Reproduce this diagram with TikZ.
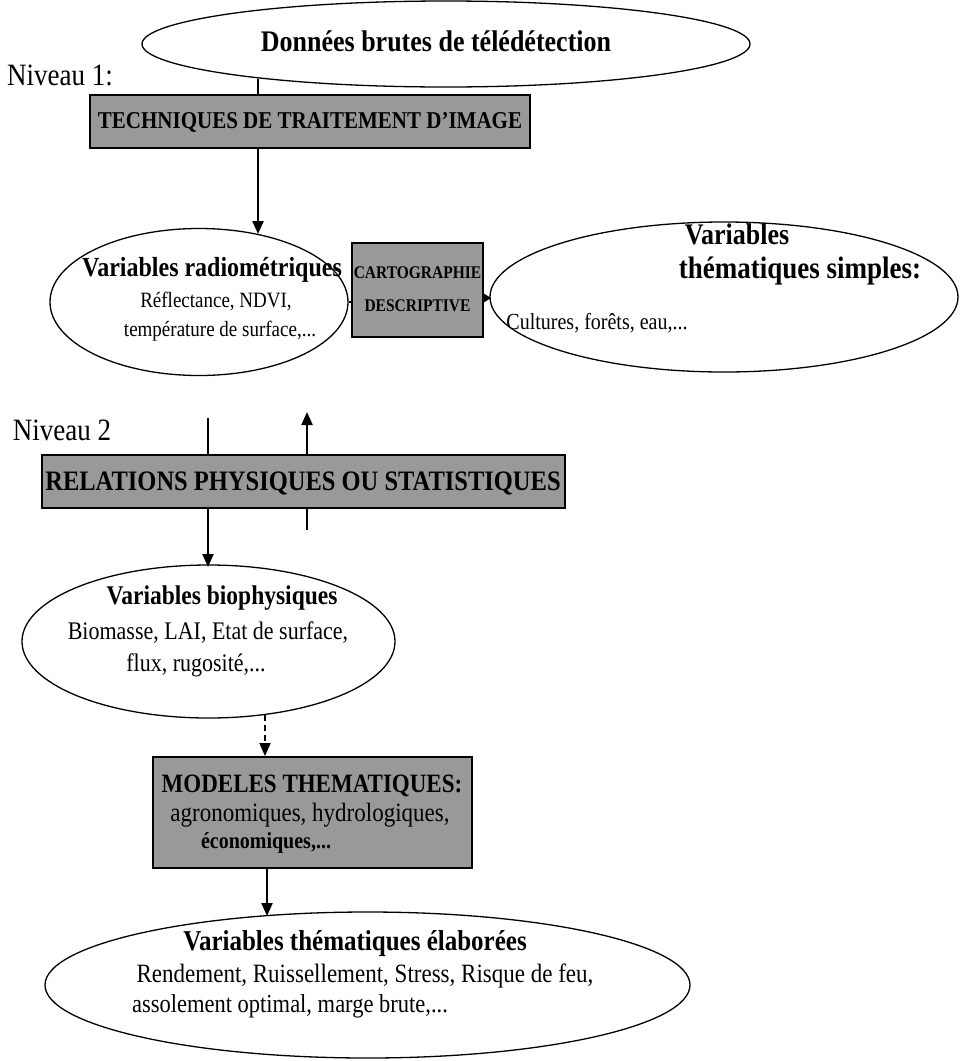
\documentclass[tikz,border=0pt]{standalone}
\usepackage{fontspec}
\usepackage{graphicx}
\setmainfont{Liberation Serif}
\usetikzlibrary{shapes.geometric,arrows.meta,patterns}
\newcommand{\fs}[1]{\fontsize{#1}{#1}\selectfont}
\newcommand{\st}[1]{\scalebox{1}[1.15]{#1}}
\tikzset{
  oval/.style={ellipse, draw, line width=1.3pt, inner sep=0pt},
  graybox/.style={rectangle, draw, line width=1.8pt, fill=black!40, inner sep=0pt},
  ttl/.style={font=\fs{24}\bfseries, inner sep=0pt},
  sub/.style={font=\fs{20}, inner sep=0pt},
  boxtxt/.style={font=\fs{22}\bfseries, inner sep=0pt},
  lvl/.style={font=\fs{27}, inner sep=0pt},
  conn/.style={line width=2.2pt},
  arr/.style={line width=2.2pt, -{Triangle[length=13pt,width=11pt]}},
}
\begin{document}
\begin{tikzpicture}[x=1pt,y=-1pt]
\useasboundingbox[fill=white] (0,0) rectangle (960,1061);

% Level 1
\node[oval, minimum width=608, minimum height=86] (raw) at (446,44) {};
\node[ttl, font=\fs{26}\bfseries] (rawt) at (436,41) {\st{Données brutes de télédétection}};
\node[lvl] (niv1) at (60,75) {\st{Niveau 1:}};

\node[graybox, minimum width=440, minimum height=53] (box1) at (310,121.5) {};
\node[boxtxt, font=\fs{21}\bfseries] (box1t) at (310,122) {\st{TECHNIQUES DE TRAITEMENT D'IMAGE}};

\node[oval, minimum width=298, minimum height=147] (radio) at (199,302) {};
\node[ttl] (radiot) at (212,270) {\st{Variables radiométriques}};
\node[sub, font=\fs{19}] (radio1) at (216,301) {\st{Réflectance, NDVI,}};
\node[sub, font=\fs{19}] (radio2) at (220,331) {\st{température de surface,...}};

\node[graybox, minimum width=131, minimum height=94] (carto) at (417.5,290) {};
\node[boxtxt, font=\fs{15.5}\bfseries] (carto1) at (417.5,273) {\st{CARTOGRAPHIE}};
\node[boxtxt, font=\fs{15.5}\bfseries] (carto2) at (417.5,306) {\st{DESCRIPTIVE}};

\node[oval, minimum width=468, minimum height=150] (simple) at (724,297) {};
\node[ttl, font=\fs{26}\bfseries] (simplet1) at (737,234) {\st{Variables}};
\node[ttl, font=\fs{27}\bfseries] (simplet2) at (800,271) {\st{thématiques simples:}};
\node[sub] (simple1) at (597,323) {\st{Cultures, forêts, eau,...}};

% Level 2
\node[lvl] (niv2) at (62,430) {\st{Niveau 2}};
\node[graybox, minimum width=523, minimum height=53] (box2) at (303.5,481.5) {};
\node[boxtxt, font=\fs{24.5}\bfseries] (box2t) at (303,483) {\st{RELATIONS PHYSIQUES OU STATISTIQUES}};

\node[oval, minimum width=373, minimum height=153] (bio) at (208.5,641.5) {};
\node[ttl, font=\fs{23.5}\bfseries] (biot) at (222,598) {\st{Variables biophysiques}};
\node[sub, font=\fs{22}] (bio1) at (208,633) {\st{Biomasse, LAI, Etat de surface,}};
\node[sub, font=\fs{22}] (bio2) at (196,665) {\st{flux, rugosité,...}};

\node[graybox, minimum width=319, minimum height=111] (box3) at (312.5,812.5) {};
\node[boxtxt, font=\fs{23}\bfseries] (box3a) at (312,786) {\st{MODELES THEMATIQUES:}};
\node[sub, font=\fs{23}] (box3b) at (310,815) {\st{agronomiques, hydrologiques,}};
\node[boxtxt, font=\fs{20}\bfseries] (box3c) at (266,843) {\st{économiques,...}};

\node[oval, minimum width=645, minimum height=146] (elab) at (367.5,985) {};
\node[ttl, font=\fs{25}\bfseries] (elabt) at (355,944) {\st{Variables thématiques élaborées}};
\node[sub, font=\fs{23}] (elab1) at (365,976) {\st{Rendement, Ruissellement, Stress, Risque de feu,}};
\node[sub, font=\fs{22.5}] (elab2) at (290,1006) {\st{assolement optimal, marge brute,...}};

% connectors
\coordinate (c1) at (258,79);
\draw[conn] (c1) -- (c1 |- box1.north);
\coordinate (c2) at (258,234);
\draw[arr] (c2 |- box1.south) -- (c2);

\draw[conn] (radio.east) -- (carto.west |- radio.east);
\coordinate (c3) at (491,298);
\draw[line width=1.5pt, -{Triangle[length=9pt,width=11pt]}] (carto.east |- c3) -- (c3);

\coordinate (d1) at (208,418);
\draw[conn] (d1) -- (d1 |- box2.north);
\coordinate (d2) at (208,567);
\draw[arr] (d2 |- box2.south) -- (d2);

\coordinate (u1) at (307,530);
\draw[conn] (u1) -- (u1 |- box2.south);
\coordinate (u2) at (307,412);
\draw[arr] (u2 |- box2.north) -- (u2);

\coordinate (e1) at (265,715);
\draw[arr, line width=1.6pt, dash pattern=on 6pt off 4pt] (e1) -- (e1 |- box3.north);

\coordinate (f1) at (267,916);
\draw[arr] (f1 |- box3.south) -- (f1);
\end{tikzpicture}
\end{document}
